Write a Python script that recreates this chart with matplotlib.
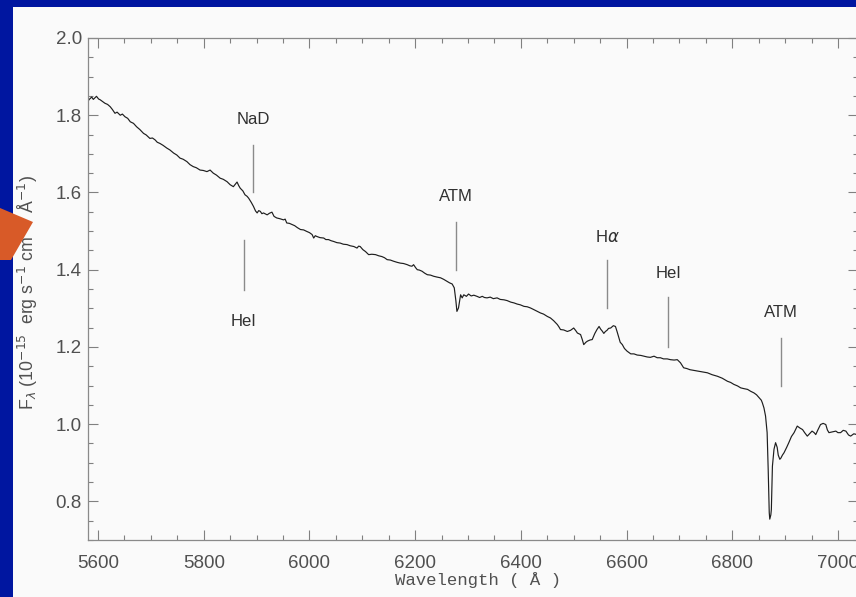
import matplotlib
matplotlib.use("Agg")
import matplotlib.pyplot as plt
from matplotlib.patches import Polygon, Rectangle
from matplotlib.ticker import MultipleLocator, FormatStrFormatter
import numpy as np


# spectrum: wavelength (Angstrom) and flux (1e-15 erg/s/cm2/A)
wave = [
    5580, 5584, 5588, 5591, 5594, 5597, 5601, 5604, 5608, 5613, 5618, 5623, 5627, 5632,
    5636, 5642, 5646, 5651, 5656, 5661, 5667, 5673, 5679, 5686, 5691, 5698, 5703, 5708,
    5712, 5717, 5723, 5730, 5736, 5743, 5749, 5755, 5761, 5768, 5774, 5780, 5786, 5793,
    5799, 5806, 5812, 5818, 5824, 5831, 5837, 5844, 5850, 5856, 5860, 5863, 5866, 5869,
    5874, 5878, 5882, 5885, 5890, 5894, 5898, 5901, 5904, 5907, 5910, 5913, 5917, 5920,
    5924, 5929, 5933, 5938, 5944, 5951, 5954, 5957, 5962, 5967, 5972, 5977, 5983,
    5989, 5995, 6000, 6005, 6008, 6011, 6014, 6020, 6027, 6031, 6036, 6041, 6046, 6052,
    6058, 6064, 6071, 6077, 6084, 6087, 6090, 6093, 6096, 6101, 6106, 6109, 6112, 6118,
    6125, 6131, 6137, 6142, 6147, 6153, 6159, 6166, 6172, 6178, 6185, 6190, 6194, 6197,
    6201, 6204, 6208, 6213, 6218, 6223, 6229, 6235, 6241, 6248, 6254, 6260, 6265, 6270,
    6274, 6277, 6279, 6282, 6284, 6286, 6289, 6292, 6297, 6301,
    6306, 6311, 6317, 6322, 6327, 6331, 6336, 6342, 6348, 6355, 6361, 6368, 6374, 6381,
    6387, 6393, 6399, 6406, 6412, 6418, 6424, 6431, 6437, 6443, 6450, 6456, 6462, 6469,
    6472, 6475, 6481, 6488, 6494, 6500, 6504, 6507, 6510, 6513, 6516, 6519, 6523, 6526,
    6531, 6535, 6540, 6544, 6548, 6551, 6554, 6557, 6560, 6563, 6566, 6570, 6575, 6579,
    6582, 6585, 6588, 6592, 6596, 6601, 6605, 6608, 6614, 6620, 6627, 6633, 6639, 6645,
    6652, 6658, 6664,
    6670, 6677, 6683, 6690, 6696, 6702, 6708, 6714, 6720, 6728, 6736, 6745, 6753, 6762,
    6772, 6781, 6791, 6797, 6803, 6810, 6816, 6822, 6829, 6835, 6841, 6846, 6851, 6855,
    6857, 6860, 6863, 6866, 6868, 6870, 6871, 6873, 6874, 6876, 6879, 6882, 6885, 6887,
    6890, 6892, 6895, 6898, 6903, 6907, 6912, 6917, 6923, 6928, 6933, 6937, 6942, 6947,
    6951, 6955, 6958, 6962, 6967, 6972, 6977, 6980, 6983, 6990, 6996, 7000, 7005, 7010,
    7015, 7020, 7024, 7030, 7036, 7040,
]
flux = [
    1.835, 1.842, 1.847, 1.841, 1.845, 1.849, 1.842, 1.840, 1.836, 1.831, 1.828, 1.822, 1.815, 1.805,
    1.808, 1.800, 1.803, 1.796, 1.792, 1.783, 1.779, 1.770, 1.763, 1.753, 1.749, 1.740, 1.741, 1.736,
    1.730, 1.727, 1.722, 1.715, 1.710, 1.702, 1.697, 1.689, 1.686, 1.680, 1.672, 1.667, 1.664, 1.658,
    1.657, 1.654, 1.658, 1.650, 1.645, 1.637, 1.634, 1.628, 1.620, 1.615, 1.622, 1.627, 1.618, 1.611,
    1.604, 1.594, 1.590, 1.585, 1.574, 1.564, 1.552, 1.547, 1.553, 1.551, 1.545, 1.547, 1.544, 1.542,
    1.546, 1.549, 1.538, 1.534, 1.532, 1.529, 1.531, 1.521, 1.520, 1.517, 1.514, 1.509, 1.504,
    1.503, 1.499, 1.496, 1.491, 1.482, 1.488, 1.486, 1.483, 1.482, 1.478, 1.478, 1.475, 1.473, 1.470,
    1.469, 1.466, 1.465, 1.462, 1.460, 1.458, 1.456, 1.461, 1.460, 1.452, 1.447, 1.443, 1.439, 1.440,
    1.439, 1.436, 1.434, 1.431, 1.426, 1.425, 1.422, 1.419, 1.417, 1.416, 1.413, 1.410, 1.409, 1.413,
    1.405, 1.400, 1.399, 1.396, 1.391, 1.387, 1.386, 1.383, 1.381, 1.379, 1.375, 1.370, 1.366, 1.363,
    1.353, 1.320, 1.292, 1.301, 1.318, 1.335, 1.327, 1.335, 1.331, 1.337,
    1.332, 1.334, 1.331, 1.328, 1.331, 1.328, 1.327, 1.329, 1.325, 1.327, 1.323, 1.322, 1.320, 1.316,
    1.314, 1.311, 1.309, 1.305, 1.304, 1.301, 1.297, 1.292, 1.288, 1.285, 1.279, 1.275, 1.268, 1.258,
    1.252, 1.245, 1.244, 1.240, 1.243, 1.249, 1.242, 1.236, 1.234, 1.232, 1.220, 1.206, 1.212, 1.215,
    1.218, 1.219, 1.235, 1.245, 1.253, 1.246, 1.241, 1.235, 1.240, 1.243, 1.248, 1.249, 1.255, 1.253,
    1.240, 1.226, 1.212, 1.206, 1.196, 1.189, 1.185, 1.182, 1.182, 1.179, 1.178, 1.176, 1.174, 1.173,
    1.176, 1.172, 1.172,
    1.169, 1.169, 1.167, 1.166, 1.167, 1.159, 1.146, 1.144, 1.141, 1.139, 1.137, 1.135, 1.133, 1.128,
    1.124, 1.119, 1.111, 1.108, 1.103, 1.099, 1.094, 1.092, 1.090, 1.085, 1.081, 1.076, 1.068, 1.062,
    1.055, 1.042, 1.021, 0.978, 0.883, 0.771, 0.754, 0.765, 0.779, 0.891, 0.935, 0.952, 0.940, 0.920,
    0.909, 0.912, 0.920, 0.926, 0.940, 0.952, 0.968, 0.978, 0.995, 0.990, 0.986, 0.978, 0.969, 0.976,
    0.982, 0.978, 0.973, 0.985, 0.999, 1.002, 0.999, 0.985, 0.978, 0.980, 0.982, 0.978, 0.978, 0.984,
    0.982, 0.972, 0.969, 0.975, 0.973, 0.976,
]

# line identifications: label, wavelength, label height, marker bottom/top
line_names = ["NaD", "HeI", "ATM", r"H$\alpha$", "HeI", "ATM"]
line_wave = [5893, 5876, 6277, 6563, 6679, 6892]
label_flux = [1.788, 1.266, 1.589, 1.485, 1.390, 1.289]
mark_lo = [1.602, 1.348, 1.400, 1.302, 1.201, 1.100]
mark_hi = [1.723, 1.478, 1.524, 1.426, 1.328, 1.224]

W, H = 856, 597
BLUE = "#0016a0"
PANEL = "#fafafa"
GREY = "#505050"

fig = plt.figure(figsize=(W / 100, H / 100), dpi=100, facecolor=BLUE)


def px(x, y):
    return x / W, 1 - y / H


# white slide panel behind the axes
fig.patches.append(Rectangle(px(13, H), (W - 13) / W, (H - 7) / H,
                             transform=fig.transFigure, facecolor=PANEL,
                             edgecolor="none", zorder=-10))

ax = fig.add_axes([87.5 / W, 1 - 540 / H, 770 / W, 502 / H])
ax.set_zorder(1)
ax.set_facecolor(PANEL)
ax.plot(wave, flux, color="#1e1e1e", lw=0.85)
ax.set_xlim(5580, 7037)
ax.set_ylim(0.70, 2.0)

ax.xaxis.set_major_locator(MultipleLocator(200))
ax.xaxis.set_minor_locator(MultipleLocator(50))
ax.yaxis.set_major_locator(MultipleLocator(0.2))
ax.yaxis.set_minor_locator(MultipleLocator(0.05))
ax.yaxis.set_major_formatter(FormatStrFormatter("%.1f"))
ax.tick_params(which="both", direction="in", top=True, right=True,
               color="#808080", width=0.8)
ax.tick_params(which="major", length=7.5, labelsize=13.5, labelcolor=GREY)
ax.tick_params(which="minor", length=3.8)
ax.tick_params(axis="x", which="major", pad=11)
ax.tick_params(axis="y", which="major", pad=4)
for lbl in ax.get_xticklabels() + ax.get_yticklabels():
    lbl.set_family("Liberation Sans")
for sp in ax.spines.values():
    sp.set_color("#8a8a8a")
    sp.set_linewidth(0.9)

for name, w, lf, lo, hi in zip(line_names, line_wave, label_flux, mark_lo, mark_hi):
    ax.plot([w, w], [lo, hi], color="#8a8a8a", lw=1.0)
    ax.text(w, lf, name, ha="center", va="center", fontsize=12,
            family="Liberation Sans", color="#303030")

fig.text(*px(478, 580), "Wavelength ( Å )", ha="center", va="center",
         fontsize=12.5, family="Liberation Mono", color=GREY)
fig.text(*px(28, 293),
         r"F$_\lambda$ (10$^{-15}$  erg s$^{-1}$ cm$^{-2}$ Å$^{-1}$)",
         rotation=90, ha="center", va="center", fontsize=12.8,
         family="Liberation Sans", color=GREY)

# orange pointer on the left edge
arrow = [px(0, 208), px(33, 222), px(11, 260), px(0, 260)]
fig.patches.append(Polygon(arrow, closed=True, transform=fig.transFigure,
                           facecolor="#d85a28", edgecolor="none", zorder=5))

fig.savefig("out.png", dpi=100, facecolor=BLUE)
